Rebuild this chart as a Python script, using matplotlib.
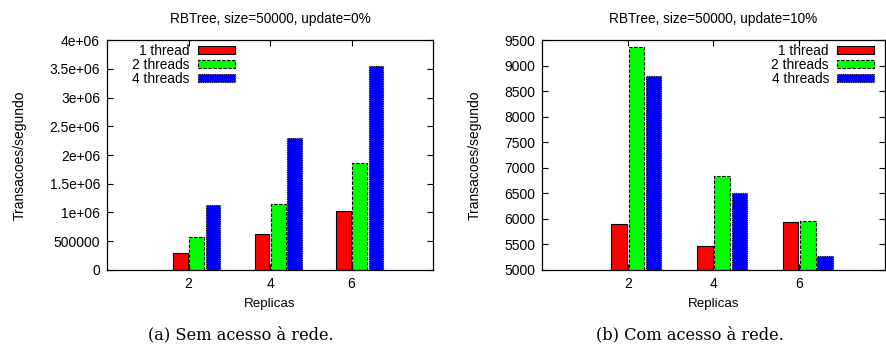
import numpy as np
import matplotlib.pyplot as plt

# data
replicas = [2, 4, 6]
series = ['1 thread', '2 threads', '4 threads']
sem_rede = {
    '1 thread': [300000, 630000, 1025000],
    '2 threads': [575000, 1153000, 1860000],
    '4 threads': [1130000, 2300000, 3548000],
}
com_rede = {
    '1 thread': [5900, 5470, 5940],
    '2 threads': [9364, 6846, 5965],
    '4 threads': [8796, 6507, 5274],
}
colors = ['#ff0000', '#00ff00', '#0000ff']
styles = ['solid', (0, (3, 1.5)), (0, (1, 1))]
offsets = [-0.2, 0.2, 0.6]
width = 0.36

plt.rcParams['font.family'] = ['Liberation Sans', 'DejaVu Sans']

fig = plt.figure(figsize=(8.86, 3.56), dpi=100)
ax1 = fig.add_axes([0.1208, 0.2416, 0.368, 0.646])
ax2 = fig.add_axes([0.6117, 0.2416, 0.3872, 0.646])


def draw(ax, data, title, ylim, yticks, ylabels, anchor):
    x = np.array(replicas, dtype=float)
    for i, s in enumerate(series):
        ax.bar(x + offsets[i], np.array(data[s]) - ylim[0], width, bottom=ylim[0],
               color=colors[i], edgecolor='black', linewidth=0.8,
               linestyle=styles[i], label=s)
    ax.set_xlim(0, 8)
    ax.set_ylim(*ylim)
    ax.set_xticks(replicas)
    ax.set_yticks(yticks)
    ax.set_yticklabels(ylabels)
    ax.tick_params(direction='in', top=True, right=True, length=4, width=0.8,
                   labelsize=10, pad=5)
    for sp in ax.spines.values():
        sp.set_linewidth(0.9)
    ax.set_title(title, fontsize=9.8, pad=12)
    ax.set_xlabel('Replicas', fontsize=9.6, labelpad=5)
    ax.set_ylabel('Transacoes/segundo', fontsize=10, labelpad=16)
    ax.legend(loc='upper right', bbox_to_anchor=anchor, frameon=False,
              markerfirst=False, fontsize=9.9, handlelength=2.7,
              handleheight=0.55, labelspacing=0.0, borderpad=0.15,
              handletextpad=0.6)


draw(ax1, sem_rede, 'RBTree, size=50000, update=0%', (0, 4e6),
     np.arange(0, 4.01e6, 5e5),
     ['0', '500000', '1e+06', '1.5e+06', '2e+06', '2.5e+06', '3e+06',
      '3.5e+06', '4e+06'],
     (0.42, 1.022))
draw(ax2, com_rede, 'RBTree, size=50000, update=10%', (5000, 9500),
     np.arange(5000, 9501, 500),
     [str(v) for v in range(5000, 9501, 500)],
     (0.995, 1.022))

fig.text(0.272, 0.058, '(a) Sem acesso à rede.', family='DejaVu Serif',
         fontsize=11.7, ha='center', va='center')
fig.text(0.779, 0.058, '(b) Com acesso à rede.', family='DejaVu Serif',
         fontsize=11.7, ha='center', va='center')

fig.savefig('out.png', dpi=100)
